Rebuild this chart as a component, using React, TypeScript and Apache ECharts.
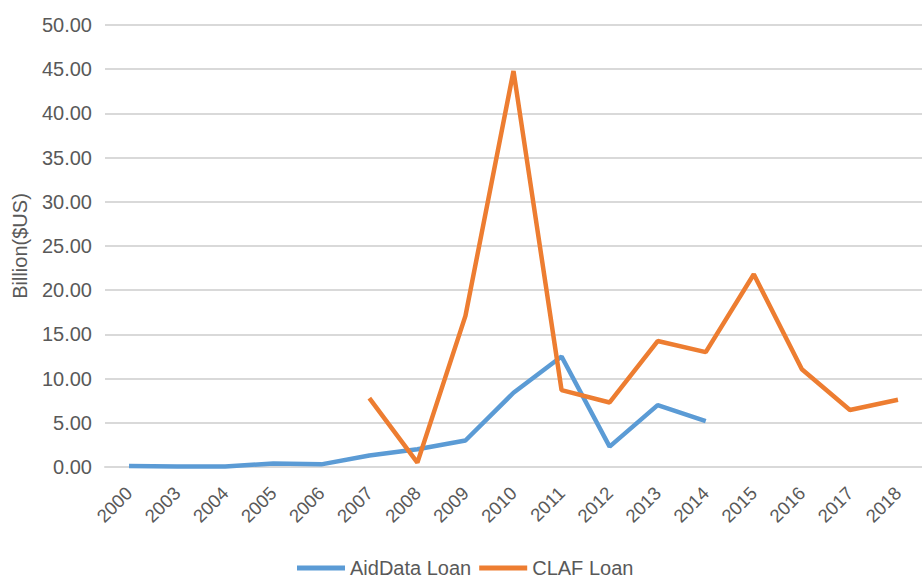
import React, { useEffect, useRef } from "react";
import * as echarts from "echarts";

const years = ["2000", "2003", "2004", "2005", "2006", "2007", "2008", "2009", "2010", "2011", "2012", "2013", "2014", "2015", "2016", "2017", "2018"];
const aidDataLoan: (number | null)[] = [0.1, 0.05, 0.05, 0.4, 0.3, 1.3, 2.0, 3.0, 8.4, 12.5, 2.3, 7.0, 5.2, null, null, null, null];
const clafLoan: (number | null)[] = [null, null, null, null, null, 7.8, 0.5, 17.1, 44.8, 8.7, 7.3, 14.25, 13.0, 21.8, 11.05, 6.45, 7.6];

const textColor = "#595959";
const fontFamily = "'Liberation Sans', Arial, Helvetica, sans-serif";

export default function App() {
  const ref = useRef<HTMLDivElement>(null);
  useEffect(() => {
    if (!ref.current) return;
    const chart = echarts.init(ref.current, undefined, { renderer: "svg" });
    chart.setOption({
      animation: false,
      textStyle: { fontFamily },
      // the plot runs slightly past the right edge, so the last category sits near the border
      grid: { left: 105, top: 25, width: 824, height: 442 },
      legend: {
        bottom: 1,
        left: 297,
        padding: 0,
        icon: "rect",
        itemWidth: 48,
        itemHeight: 5,
        itemGap: 8,
        textStyle: { color: textColor, fontSize: 20, fontFamily },
        data: ["AidData Loan", "CLAF Loan"],
      },
      xAxis: {
        type: "category",
        data: years,
        boundaryGap: true,
        axisLine: { show: true, lineStyle: { color: "#d9d9d9", width: 2 } },
        axisTick: { show: false },
        axisLabel: { rotate: 45, color: textColor, fontSize: 18.5, margin: 23, interval: 0, fontFamily },
      },
      yAxis: {
        type: "value",
        min: 0,
        max: 50,
        interval: 5,
        name: "Billion($US)",
        nameLocation: "middle",
        nameRotate: 90,
        nameGap: 75,
        nameTextStyle: { color: textColor, fontSize: 20, fontFamily },
        axisLine: { show: false },
        axisTick: { show: false },
        axisLabel: { color: textColor, fontSize: 20, margin: 13, formatter: (v: number) => v.toFixed(2), fontFamily },
        splitLine: { lineStyle: { color: "#d9d9d9", width: 2 } },
      },
      series: [
        {
          name: "AidData Loan",
          type: "line",
          data: aidDataLoan,
          showSymbol: false,
          symbol: "none",
          lineStyle: { color: "#5B9BD5", width: 4.5 },
          itemStyle: { color: "#5B9BD5" },
        },
        {
          name: "CLAF Loan",
          type: "line",
          data: clafLoan,
          showSymbol: false,
          symbol: "none",
          lineStyle: { color: "#ED7D31", width: 4.5 },
          itemStyle: { color: "#ED7D31" },
        },
      ],
    });
    return () => chart.dispose();
  }, []);
  return (
    <div
      ref={ref}
      style={{ position: "absolute", left: 0, top: 0, width: 922, height: 579, background: "#fff" }}
    />
  );
}
